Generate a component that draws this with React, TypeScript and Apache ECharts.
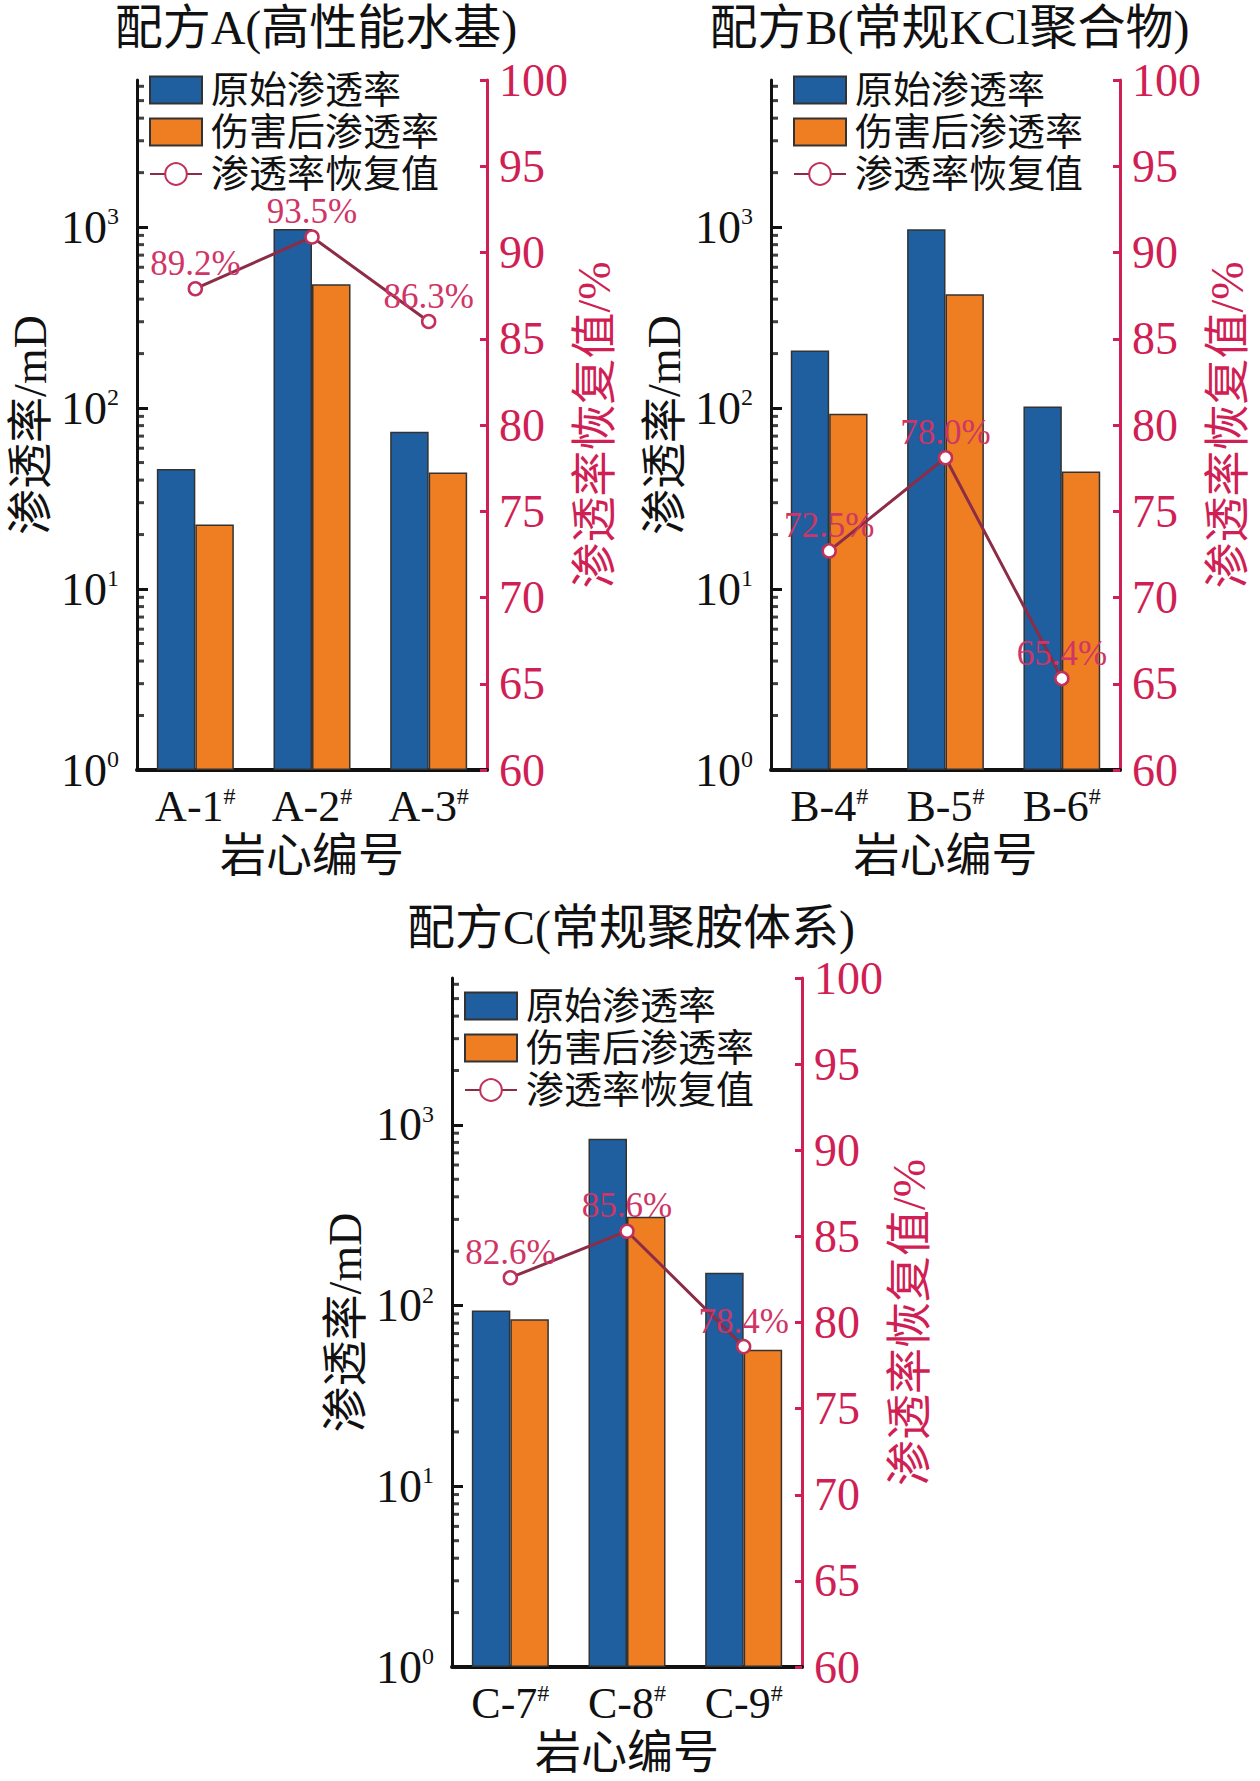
import React, { useEffect, useRef } from "react";
import * as echarts from "echarts";

const FONT = "'Liberation Serif','Noto Sans CJK SC',serif";

const titles = ["配方A(高性能水基)", "配方B(常规KCl聚合物)", "配方C(常规聚胺体系)"];
const seriesNames = ["原始渗透率", "伤害后渗透率", "渗透率恢复值"];

const catsA = ["A-1#", "A-2#", "A-3#"];
const catsB = ["B-4#", "B-5#", "B-6#"];
const catsC = ["C-7#", "C-8#", "C-9#"];

const origA = [46, 975, 74];
const damA = [22.7, 483, 44];
const recA = [87.9, 90.9, 86.0];
const recLabelA = ["89.2%", "93.5%", "86.3%"];

const origB = [208, 973, 102];
const damB = [93, 425, 44.6];
const recB = [72.7, 78.1, 65.3];
const recLabelB = ["72.5%", "78.0%", "65.4%"];

const origC = [94, 837, 152];
const damC = [84, 310, 57];
const recC = [82.6, 85.3, 78.6];
const recLabelC = ["82.6%", "85.6%", "78.4%"];

const logMin = 1;
const logMax = 6500;
const recMin = 60;
const recMax = 100;
const recInterval = 5;
const minorTickValues: number[] = [];
[1, 10, 100, 1000].forEach((d) => {
  [2, 3, 4, 5, 6, 7, 8, 9].forEach((m) => {
    if (m * d <= logMax) minorTickValues.push(m * d);
  });
});

const panels = [
  { title: titles[0], cats: catsA, orig: origA, dam: damA, rec: recA, recLabel: recLabelA,
    grid: { left: 137, top: 80, width: 350, height: 690 }, legend: { left: 149, top: 70 } },
  { title: titles[1], cats: catsB, orig: origB, dam: damB, rec: recB, recLabel: recLabelB,
    grid: { left: 771, top: 80, width: 349, height: 690 }, legend: { left: 793, top: 70 } },
  { title: titles[2], cats: catsC, orig: origC, dam: damC, rec: recC, recLabel: recLabelC,
    grid: { left: 452, top: 978, width: 350, height: 689 }, legend: { left: 464, top: 986 } },
];

const BLUE = "#1f5f9f";
const ORANGE = "#ef7d22";
const RED = "#d01f55";
const LINE = "#8c2c46";
const LABEL = "#cf3566";

function buildOption() {
  const grid: any[] = [];
  const xAxis: any[] = [];
  const yAxis: any[] = [];
  const series: any[] = [];
  const legend: any[] = [];
  const title: any[] = [];

  panels.forEach((p, i) => {
    grid.push({ ...p.grid, containLabel: false });
    title.push({
      text: p.title,
      left: p.grid.left + p.grid.width / 2,
      top: i === 2 ? 899 : -1,
      textAlign: "center",
      padding: 4,
      textStyle: { fontFamily: FONT, fontSize: 48, fontWeight: "normal", color: "#111" },
    });
    legend.push({
      orient: "vertical",
      left: p.legend.left,
      top: p.legend.top,
      padding: 0,
      itemWidth: 52,
      itemHeight: 27,
      itemGap: 2,
      textStyle: { fontFamily: FONT, fontSize: 38, color: "#111", lineHeight: 40, padding: [0, 0, 0, 4] },
      data: [
        { name: seriesNames[0], icon: "rect" },
        { name: seriesNames[1], icon: "rect" },
        { name: seriesNames[2] },
      ],
    });
    xAxis.push({
      type: "category",
      gridIndex: i,
      data: p.cats,
      axisLine: { lineStyle: { color: "#111", width: 4 } },
      axisTick: { show: false },
      axisLabel: {
        interval: 0,
        margin: 14,
        fontFamily: FONT,
        fontSize: 44,
        color: "#111",
        formatter: (v: string) => v.replace("#", "{s|#}"),
        rich: {
          s: { fontFamily: FONT, fontSize: 24, verticalAlign: "top", color: "#111", padding: [0, 0, 18, 0] },
        },
      },
      name: "岩心编号",
      nameLocation: "middle",
      nameGap: 62,
      nameTextStyle: { fontFamily: FONT, fontSize: 46, color: "#111" },
      splitLine: { show: false },
    });
    yAxis.push({
      type: "log",
      logBase: 10,
      gridIndex: i,
      min: logMin,
      max: logMax,
      position: "left",
      axisLine: { show: true, lineStyle: { color: "#111", width: 3 } },
      axisTick: { show: true, inside: true, length: 11, lineStyle: { color: "#111", width: 3 } },
      axisLabel: {
        margin: 18,
        fontFamily: FONT,
        fontSize: 46,
        color: "#111",
        showMaxLabel: false,
        formatter: (v: number) => {
          const l = Math.log10(v);
          const r = Math.round(l);
          if (Math.abs(l - r) > 1e-6 || r < 0 || r > 3) return "";
          return "10{s|" + String(r) + "}";
        },
        rich: {
          s: { fontFamily: FONT, fontSize: 24, verticalAlign: "top", color: "#111", padding: [0, 0, 20, 0] },
        },
      },
      name: "渗透率/mD",
      nameLocation: "middle",
      nameRotate: 90,
      nameGap: 84,
      nameTextStyle: { fontFamily: FONT, fontSize: 46, color: "#111" },
      splitLine: { show: false },
    });
    yAxis.push({
      type: "value",
      gridIndex: i,
      min: recMin,
      max: recMax,
      interval: recInterval,
      position: "right",
      axisLine: { show: true, lineStyle: { color: RED, width: 3 } },
      axisTick: { show: true, inside: true, length: 7, lineStyle: { color: RED, width: 3 } },
      axisLabel: { margin: 12, fontFamily: FONT, fontSize: 46, color: RED },
      name: "渗透率恢复值/%",
      nameLocation: "middle",
      nameRotate: 90,
      nameGap: 82,
      nameTextStyle: { fontFamily: FONT, fontSize: 46, color: RED },
      splitLine: { show: false },
    });

    series.push({
      name: seriesNames[0],
      type: "bar",
      xAxisIndex: i,
      yAxisIndex: 2 * i,
      data: p.orig,
      barGap: "0%",
      barCategoryGap: "34%",
      itemStyle: { color: BLUE, borderColor: "#333", borderWidth: 1.5 },
      z: 2,
    });
    series.push({
      name: seriesNames[1],
      type: "bar",
      xAxisIndex: i,
      yAxisIndex: 2 * i,
      data: p.dam,
      barGap: "0%",
      barCategoryGap: "34%",
      itemStyle: { color: ORANGE, borderColor: "#333", borderWidth: 1.5 },
      z: 2,
    });
    series.push({
      name: seriesNames[2],
      type: "line",
      xAxisIndex: i,
      yAxisIndex: 2 * i + 1,
      data: p.rec,
      symbol: "circle",
      symbolSize: 13,
      showAllSymbol: true,
      lineStyle: { color: LINE, width: 3 },
      itemStyle: { color: "#ffffff", borderColor: "#c0305a", borderWidth: 2.5 },
      label: {
        show: true,
        position: "top",
        distance: 0,
        fontFamily: FONT,
        fontSize: 35,
        color: LABEL,
        formatter: (prm: any) => p.recLabel[prm.dataIndex],
      },
      z: 5,
    });
  });

  // hidden value x-axes (one per grid) used to place the log-axis minor ticks at the axis line
  panels.forEach((p, i) => {
    xAxis.push({ type: "value", gridIndex: i, min: 0, max: 1, show: false });
    series.push({
      name: "minor",
      type: "scatter",
      xAxisIndex: 3 + i,
      yAxisIndex: 2 * i,
      silent: true,
      symbol: "rect",
      symbolSize: [7, 3],
      symbolOffset: [3.5, 0],
      itemStyle: { color: "#111" },
      data: minorTickValues.map((v) => [0, v]),
      z: 6,
    });
  });

  return {
    animation: false,
    backgroundColor: "#ffffff",
    textStyle: { fontFamily: FONT },
    title,
    legend,
    grid,
    xAxis,
    yAxis,
    series,
  };
}

export default function App() {
  const ref = useRef<HTMLDivElement>(null);
  useEffect(() => {
    if (!ref.current) return;
    const chart = echarts.init(ref.current, undefined, { renderer: "svg" });
    chart.setOption(buildOption() as any);
    return () => chart.dispose();
  }, []);
  return (
    <div
      ref={ref}
      style={{ position: "absolute", left: 0, top: 0, width: 1260, height: 1781 }}
    />
  );
}
